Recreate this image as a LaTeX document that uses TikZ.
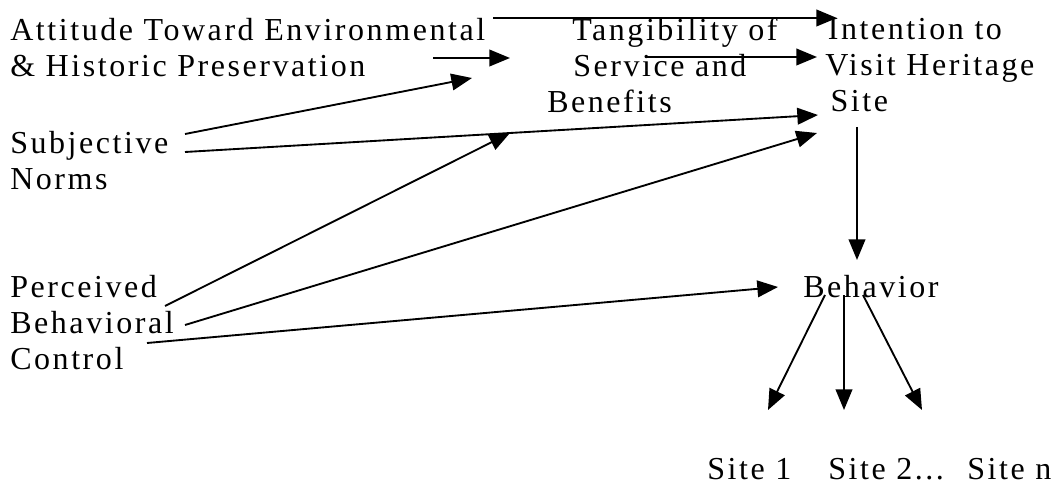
\documentclass[tikz,border=0pt]{standalone}
\usepackage{fontspec}
\setmainfont{Liberation Serif}[LetterSpace=8]
\usetikzlibrary{arrows.meta}
\usetikzlibrary{positioning}

\tikzset{
  boxtext/.style={anchor=north west, inner sep=0pt, align=left,
    font=\fontsize{24}{27}\selectfont},
  link/.style={-{Triangle[length=15.5pt,width=12.5pt]}, line width=1.4pt}
}

\begin{document}
\begin{tikzpicture}[x=0.75pt,y=-0.75pt]
        \useasboundingbox (0,0) rectangle (1054,485);
        % factors
        \node[boxtext] (attitude) at (10,18){Attitude Toward Environmental\\\& Historic Preservation};
        \node[boxtext] (subjNorms) at (10,131){Subjective\\Norms};
        \node[boxtext] (perceived) at (10,275){Perceived\\Behavioral\\Control};
        \node[boxtext] (tangibility) at (547,18){\hspace*{18.75pt}Tangibility of\\\hspace*{19.5pt}Service and\\Benefits};
        \node[boxtext] (intention) at (825,18){\hspace*{2pt}Intention to\\Visit Heritage\\\hspace*{4pt}Site};
        \node[boxtext] (behavior) at (803,275){Behavior};
        \node[boxtext] (siteOne) at (707,458){Site 1};
        \node[boxtext] (siteTwo) at (828,458){Site 2...};
        \node[boxtext] (siteN) at (967,458){Site n};
        % arrow ends
        \coordinate (attTop) at (493,18);
        \coordinate (intTop) at (837,18);
        \coordinate (attMid) at (433,58);
        \coordinate (tangIn) at (510,58);
        \coordinate (subjUp) at (185,134);
        \coordinate (tangLow) at (472,78);
        \coordinate (tangOut) at (645,57);
        \coordinate (intMid) at (817,57);
        \coordinate (subjDown) at (185,152);
        \coordinate (intSite) at (818,115);
        \coordinate (percUp) at (165,306);
        \coordinate (tangBot) at (510,133);
        \coordinate (behavMid) at (185,325);
        \coordinate (intBot) at (817,133);
        \coordinate (ctrlOut) at (147,343);
        \coordinate (behavIn) at (778,287);
        \coordinate (intDown) at (857,127);
        \coordinate (behavTop) at (857,260);
        \coordinate (behavA) at (825,295);
        \coordinate (behavB) at (844,295);
        \coordinate (behavC) at (863,295);
        \coordinate (siteOneTop) at (768,410);
        \coordinate (siteTwoTop) at (844,410);
        \coordinate (siteNTop) at (922,410);
        % connectors
        \draw[link] (attTop) -- (intTop);
        \draw[link] (attMid) -- (tangIn);
        \draw[link] (subjUp) -- (tangLow);
        \draw[link] (tangOut) -- (intMid);
        \draw[link] (subjDown) -- (intSite);
        \draw[link] (percUp) -- (tangBot);
        \draw[link] (behavMid) -- (intBot);
        \draw[link] (ctrlOut) -- (behavIn);
        \draw[link] (intDown) -- (behavTop);
        \draw[link] (behavA) -- (siteOneTop);
        \draw[link] (behavB) -- (siteTwoTop);
        \draw[link] (behavC) -- (siteNTop);
      \end{tikzpicture}
\end{document}
